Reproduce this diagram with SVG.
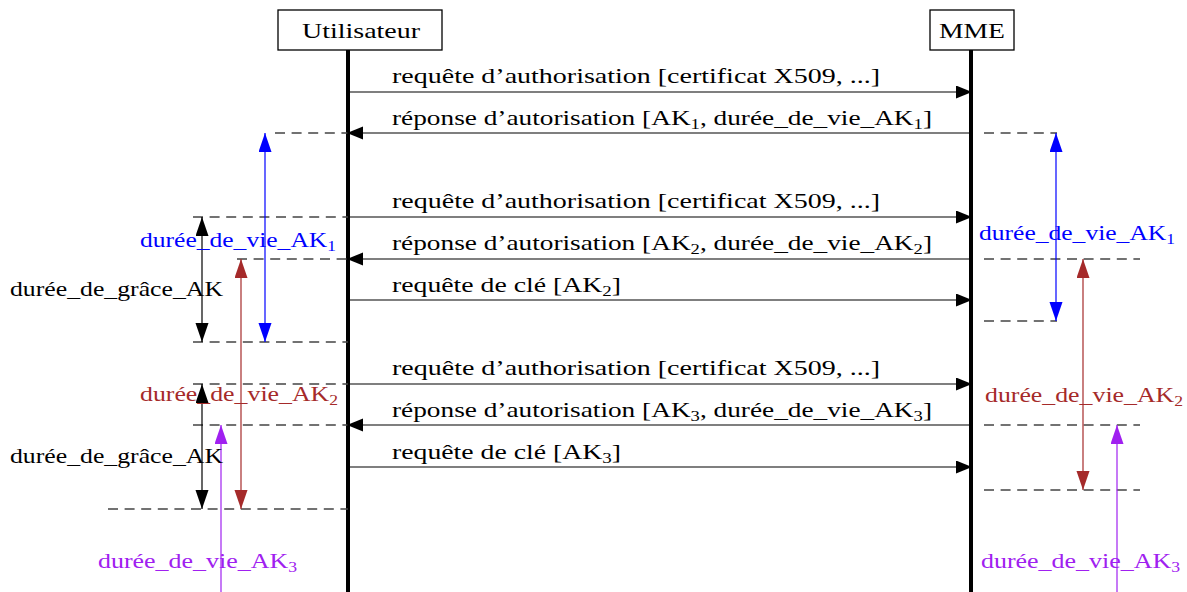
<svg xmlns="http://www.w3.org/2000/svg" width="1187" height="592" viewBox="0 0 1187 592">
<style>
text{font-family:"Liberation Serif","DejaVu Serif",serif;font-size:22px;fill:#000}
.box{fill:#fff;stroke:#000;stroke-width:1.3}
.life{stroke:#000;stroke-width:4}
.msg{stroke:#000;stroke-width:1.1;fill:none}
.dash{stroke:#444;stroke-width:1.4;stroke-dasharray:10 6.6;fill:none}
.v{stroke-width:1.2;fill:none}
.blue{fill:#0000ff}.brown{fill:#a52a2a}.purple{fill:#a020f0}
</style>
<defs>
<marker id="ah" markerUnits="userSpaceOnUse" markerWidth="18" markerHeight="14" refX="16" refY="6.5" orient="auto"><path d="M0,0 L16,6.5 L0,13 z" fill="#000"/></marker>
<marker id="vk" markerUnits="userSpaceOnUse" markerWidth="20" markerHeight="14" refX="19" refY="6.5" orient="auto-start-reverse"><path d="M0,0 L19,6.5 L0,13 z" fill="#000"/></marker>
<marker id="vb" markerUnits="userSpaceOnUse" markerWidth="20" markerHeight="14" refX="19" refY="6.5" orient="auto-start-reverse"><path d="M0,0 L19,6.5 L0,13 z" fill="#0000ff"/></marker>
<marker id="vr" markerUnits="userSpaceOnUse" markerWidth="20" markerHeight="14" refX="19" refY="6.5" orient="auto-start-reverse"><path d="M0,0 L19,6.5 L0,13 z" fill="#a52a2a"/></marker>
<marker id="vp" markerUnits="userSpaceOnUse" markerWidth="20" markerHeight="14" refX="19" refY="6.5" orient="auto-start-reverse"><path d="M0,0 L19,6.5 L0,13 z" fill="#a020f0"/></marker>
</defs>

<g id="lifelines">
<line class="life" x1="348" y1="50" x2="348" y2="592"/>
<line class="life" x1="971" y1="50" x2="971" y2="592"/>
</g>

<g id="node-utilisateur">
<rect class="box" x="278" y="10" width="164" height="40"/>
<text x="361" y="38" text-anchor="middle" textLength="118" lengthAdjust="spacingAndGlyphs">Utilisateur</text>
</g>
<g id="node-mme">
<rect class="box" x="930" y="10" width="84" height="40"/>
<text x="972" y="38" text-anchor="middle" textLength="66" lengthAdjust="spacingAndGlyphs">MME</text>
</g>

<g id="guides">
<line class="dash" x1="275" y1="133" x2="348" y2="133"/>
<line class="dash" x1="193" y1="217" x2="348" y2="217"/>
<line class="dash" x1="237" y1="259" x2="348" y2="259"/>
<line class="dash" x1="193" y1="342" x2="348" y2="342"/>
<line class="dash" x1="193" y1="384" x2="348" y2="384"/>
<line class="dash" x1="193" y1="425" x2="348" y2="425"/>
<line class="dash" x1="108" y1="509" x2="348" y2="509"/>
<line class="dash" x1="984" y1="133" x2="1057" y2="133"/>
<line class="dash" x1="984" y1="259" x2="1140" y2="259"/>
<line class="dash" x1="984" y1="321" x2="1057" y2="321"/>
<line class="dash" x1="984" y1="425" x2="1140" y2="425"/>
<line class="dash" x1="984" y1="490" x2="1140" y2="490"/>
</g>

<g id="connectors">
<line class="msg" x1="349" y1="92" x2="972" y2="92" marker-end="url(#ah)"/>
<line class="msg" x1="971" y1="133" x2="347" y2="133" marker-end="url(#ah)"/>
<line class="msg" x1="349" y1="217" x2="972" y2="217" marker-end="url(#ah)"/>
<line class="msg" x1="971" y1="259" x2="347" y2="259" marker-end="url(#ah)"/>
<line class="msg" x1="349" y1="300" x2="972" y2="300" marker-end="url(#ah)"/>
<line class="msg" x1="349" y1="384" x2="972" y2="384" marker-end="url(#ah)"/>
<line class="msg" x1="971" y1="425" x2="347" y2="425" marker-end="url(#ah)"/>
<line class="msg" x1="349" y1="467" x2="972" y2="467" marker-end="url(#ah)"/>

<line class="v" stroke="#0000ff" x1="265" y1="133" x2="265" y2="342" marker-start="url(#vb)" marker-end="url(#vb)"/>
<line class="v" stroke="#000" x1="202" y1="217" x2="202" y2="342" marker-start="url(#vk)" marker-end="url(#vk)"/>
<line class="v" stroke="#a52a2a" x1="241" y1="259" x2="241" y2="509" marker-start="url(#vr)" marker-end="url(#vr)"/>
<line class="v" stroke="#000" x1="202" y1="384" x2="202" y2="509" marker-start="url(#vk)" marker-end="url(#vk)"/>
<line class="v" stroke="#a020f0" x1="221" y1="592" x2="221" y2="425" marker-end="url(#vp)"/>
<line class="v" stroke="#0000ff" x1="1056" y1="133" x2="1056" y2="321" marker-start="url(#vb)" marker-end="url(#vb)"/>
<line class="v" stroke="#a52a2a" x1="1083" y1="259" x2="1083" y2="490" marker-start="url(#vr)" marker-end="url(#vr)"/>
<line class="v" stroke="#a020f0" x1="1117" y1="592" x2="1117" y2="425" marker-end="url(#vp)"/>
</g>

<g id="message-labels">
<text x="392" y="83" textLength="488" lengthAdjust="spacingAndGlyphs">requête d’authorisation [certificat X509, ...]</text>
<text x="392" y="125" textLength="540" lengthAdjust="spacingAndGlyphs">réponse d’autorisation [AK<tspan font-size="15" dy="4">1</tspan><tspan dy="-4">, durée_de_vie_AK</tspan><tspan font-size="15" dy="4">1</tspan><tspan dy="-4">]</tspan></text>
<text x="392" y="208" textLength="488" lengthAdjust="spacingAndGlyphs">requête d’authorisation [certificat X509, ...]</text>
<text x="392" y="250" textLength="540" lengthAdjust="spacingAndGlyphs">réponse d’autorisation [AK<tspan font-size="15" dy="4">2</tspan><tspan dy="-4">, durée_de_vie_AK</tspan><tspan font-size="15" dy="4">2</tspan><tspan dy="-4">]</tspan></text>
<text x="392" y="292" textLength="229" lengthAdjust="spacingAndGlyphs">requête de clé [AK<tspan font-size="15" dy="4">2</tspan><tspan dy="-4">]</tspan></text>
<text x="392" y="375" textLength="488" lengthAdjust="spacingAndGlyphs">requête d’authorisation [certificat X509, ...]</text>
<text x="392" y="417" textLength="540" lengthAdjust="spacingAndGlyphs">réponse d’autorisation [AK<tspan font-size="15" dy="4">3</tspan><tspan dy="-4">, durée_de_vie_AK</tspan><tspan font-size="15" dy="4">3</tspan><tspan dy="-4">]</tspan></text>
<text x="392" y="459" textLength="229" lengthAdjust="spacingAndGlyphs">requête de clé [AK<tspan font-size="15" dy="4">3</tspan><tspan dy="-4">]</tspan></text>
</g>

<g id="duration-labels">
<text class="blue" x="140" y="247" textLength="196" lengthAdjust="spacingAndGlyphs">durée_de_vie_AK<tspan font-size="15" dy="4">1</tspan></text>
<text x="10" y="296" textLength="213" lengthAdjust="spacingAndGlyphs">durée_de_grâce_AK</text>
<text class="brown" x="140" y="401" textLength="198" lengthAdjust="spacingAndGlyphs">durée_de_vie_AK<tspan font-size="15" dy="4">2</tspan></text>
<text x="10" y="463" textLength="213" lengthAdjust="spacingAndGlyphs">durée_de_grâce_AK</text>
<text class="purple" x="98" y="568" textLength="199" lengthAdjust="spacingAndGlyphs">durée_de_vie_AK<tspan font-size="15" dy="4">3</tspan></text>
<text class="blue" x="979" y="240" textLength="196" lengthAdjust="spacingAndGlyphs">durée_de_vie_AK<tspan font-size="15" dy="4">1</tspan></text>
<text class="brown" x="985" y="402" textLength="198" lengthAdjust="spacingAndGlyphs">durée_de_vie_AK<tspan font-size="15" dy="4">2</tspan></text>
<text class="purple" x="981" y="568" textLength="199" lengthAdjust="spacingAndGlyphs">durée_de_vie_AK<tspan font-size="15" dy="4">3</tspan></text>
</g>
</svg>
